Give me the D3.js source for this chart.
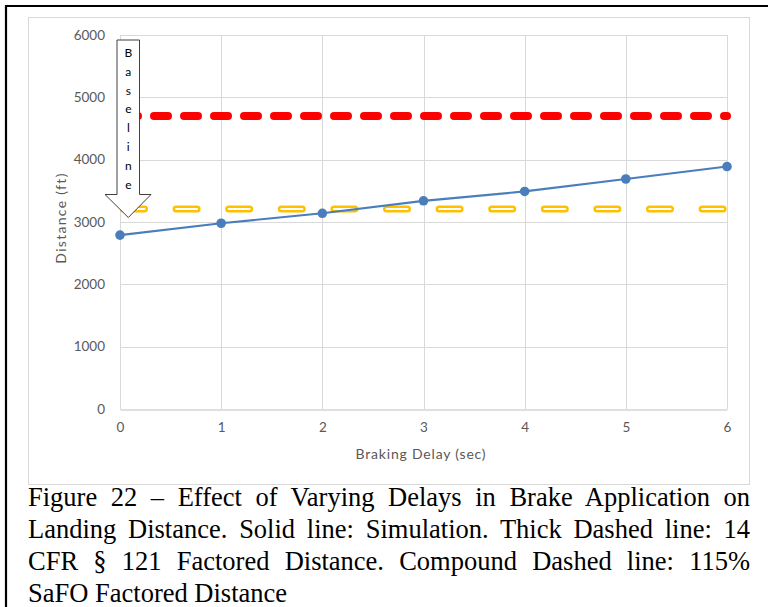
<!DOCTYPE html>
<html><head><meta charset="utf-8">
<script src="https://cdn.jsdelivr.net/npm/d3@7/dist/d3.min.js"></script>
<style>html,body{margin:0;padding:0;background:#fff;overflow:hidden}</style>
</head><body>
<svg id="c" width="768" height="607"></svg>
<script>
const delays = [0, 1, 2, 3, 4, 5, 6];
const simulation = [2790, 2980, 3140, 3340, 3490, 3690, 3890];
const cfr121 = 4700;
const safo115 = 3210;
const yTicks = [0, 1000, 2000, 3000, 4000, 5000, 6000];
const xTicks = [0, 1, 2, 3, 4, 5, 6];
const baselineLetters = ["B","a","s","e","l","i","n","e"];
const captionLines = [
  "Figure 22 \u2013 Effect of Varying Delays in Brake Application on",
  "Landing Distance. Solid line: Simulation. Thick Dashed line: 14",
  "CFR \u00a7 121 Factored Distance. Compound Dashed line: 115%",
  "SaFO Factored Distance"
];

const svg = d3.select("#c");
const x = d3.scaleLinear().domain([0, 6]).range([120, 727]);
const y = d3.scaleLinear().domain([0, 6000]).range([409, 35]);
const fnt = "Lato, 'Open Sans', sans-serif";

// outer black frame
svg.append("path").attr("d", "M6,612 L6,6 L775,6").attr("fill", "none").attr("stroke", "#000").attr("stroke-width", 2.2);
// chart area border
svg.append("rect").attr("x", 28.5).attr("y", 17.5).attr("width", 721).attr("height", 467)
  .attr("fill", "#fff").attr("stroke", "#d9d9d9").attr("stroke-width", 1);

// gridlines
svg.append("g").selectAll("line").data(yTicks.filter(d => d > 0)).join("line")
  .attr("x1", x(0)).attr("x2", x(6)).attr("y1", d => Math.round(y(d)) + 0.5).attr("y2", d => Math.round(y(d)) + 0.5)
  .attr("stroke", "#d9d9d9").attr("stroke-width", 1);
svg.append("g").selectAll("line").data(xTicks.filter(d => d > 0)).join("line")
  .attr("y1", y(0)).attr("y2", y(6000)).attr("x1", d => Math.round(x(d)) + 0.5).attr("x2", d => Math.round(x(d)) + 0.5)
  .attr("stroke", "#d9d9d9").attr("stroke-width", 1);

// axes
const yAxis = d3.axisLeft(y).tickValues(yTicks).tickSize(0).tickPadding(15).tickFormat(d3.format("d"));
const yg = svg.append("g").attr("transform", "translate(" + x(0) + ",0)").call(yAxis);
yg.select(".domain").attr("stroke", "#d9d9d9");
yg.selectAll("text").attr("font-family", fnt).attr("font-size", 13.5).attr("fill", "#595959");

const xAxis = d3.axisBottom(x).tickValues(xTicks).tickSize(0).tickPadding(13).tickFormat(d3.format("d"));
const xg = svg.append("g").attr("transform", "translate(0," + (Math.round(y(0)) + 0.5) + ")").call(xAxis);
xg.select(".domain").attr("stroke", "#bfbfbf");
xg.selectAll("text").attr("font-family", fnt).attr("font-size", 13.5).attr("fill", "#595959");

svg.append("text").attr("x", 421).attr("y", 459).attr("text-anchor", "middle")
  .attr("font-family", fnt).attr("font-size", 14).attr("letter-spacing", 0.8).attr("fill", "#595959").text("Braking Delay (sec)");
svg.append("text").attr("transform", "translate(66,218) rotate(-90)").attr("text-anchor", "middle")
  .attr("font-family", fnt).attr("font-size", 14).attr("letter-spacing", 1.3).attr("fill", "#595959").text("Distance (ft)");

// red thick dashed line
svg.append("line").attr("x1", x(0) + 4).attr("x2", x(6)).attr("y1", y(cfr121)).attr("y2", y(cfr121))
  .attr("stroke", "#ff0000").attr("stroke-width", 8).attr("stroke-linecap", "round")
  .attr("stroke-dasharray", "14,16");

// yellow compound dashed line
svg.append("line").attr("x1", x(0) + 3.5).attr("x2", x(6)).attr("y1", y(safo115)).attr("y2", y(safo115))
  .attr("stroke", "#ffc000").attr("stroke-width", 7).attr("stroke-linecap", "round")
  .attr("stroke-dasharray", "21,31.6");
svg.append("line").attr("x1", x(0) + 3.5).attr("x2", x(6)).attr("y1", y(safo115)).attr("y2", y(safo115))
  .attr("stroke", "#fff").attr("stroke-width", 2).attr("stroke-linecap", "round")
  .attr("stroke-dasharray", "21,31.6");

// simulation line
const data = delays.map((d, i) => [d, simulation[i]]);
svg.append("path").datum(data).attr("fill", "none").attr("stroke", "#4a7ebb").attr("stroke-width", 2.2)
  .attr("d", d3.line().x(d => x(d[0])).y(d => y(d[1])));
svg.append("g").selectAll("circle").data(data).join("circle")
  .attr("cx", d => x(d[0])).attr("cy", d => y(d[1])).attr("r", 4.8).attr("fill", "#4a7ebb");

// Baseline arrow callout
const ax = 128.3;
const arrow = d3.path();
arrow.moveTo(117, 40); arrow.lineTo(139.5, 40); arrow.lineTo(139.5, 194.5); arrow.lineTo(151, 194.5);
arrow.lineTo(ax, 217.5); arrow.lineTo(105, 194.5); arrow.lineTo(117, 194.5); arrow.closePath();
svg.append("path").attr("d", arrow.toString()).attr("fill", "#fff").attr("stroke", "#404040").attr("stroke-width", 1);
svg.append("g").selectAll("text").data(baselineLetters).join("text")
  .attr("x", ax).attr("y", (d, i) => 57 + i * 18.8).attr("text-anchor", "middle")
  .attr("font-family", fnt).attr("font-size", 12).attr("fill", "#000").text(d => d);

// caption, justified
const capFont = "'Liberation Serif', 'Times New Roman', serif";
const left = 28, right = 750;
captionLines.forEach((line, i) => {
  const t = svg.append("text").attr("x", left).attr("y", 506 + i * 32)
    .attr("font-family", capFont).attr("font-size", 26.5).attr("fill", "#000").text(line);
  if (i < captionLines.length - 1) {
    const w = t.node().getComputedTextLength();
    const spaces = (line.match(/ /g) || []).length;
    t.attr("word-spacing", (right - left - w) / spaces);
  }
});
</script>
</body></html>
